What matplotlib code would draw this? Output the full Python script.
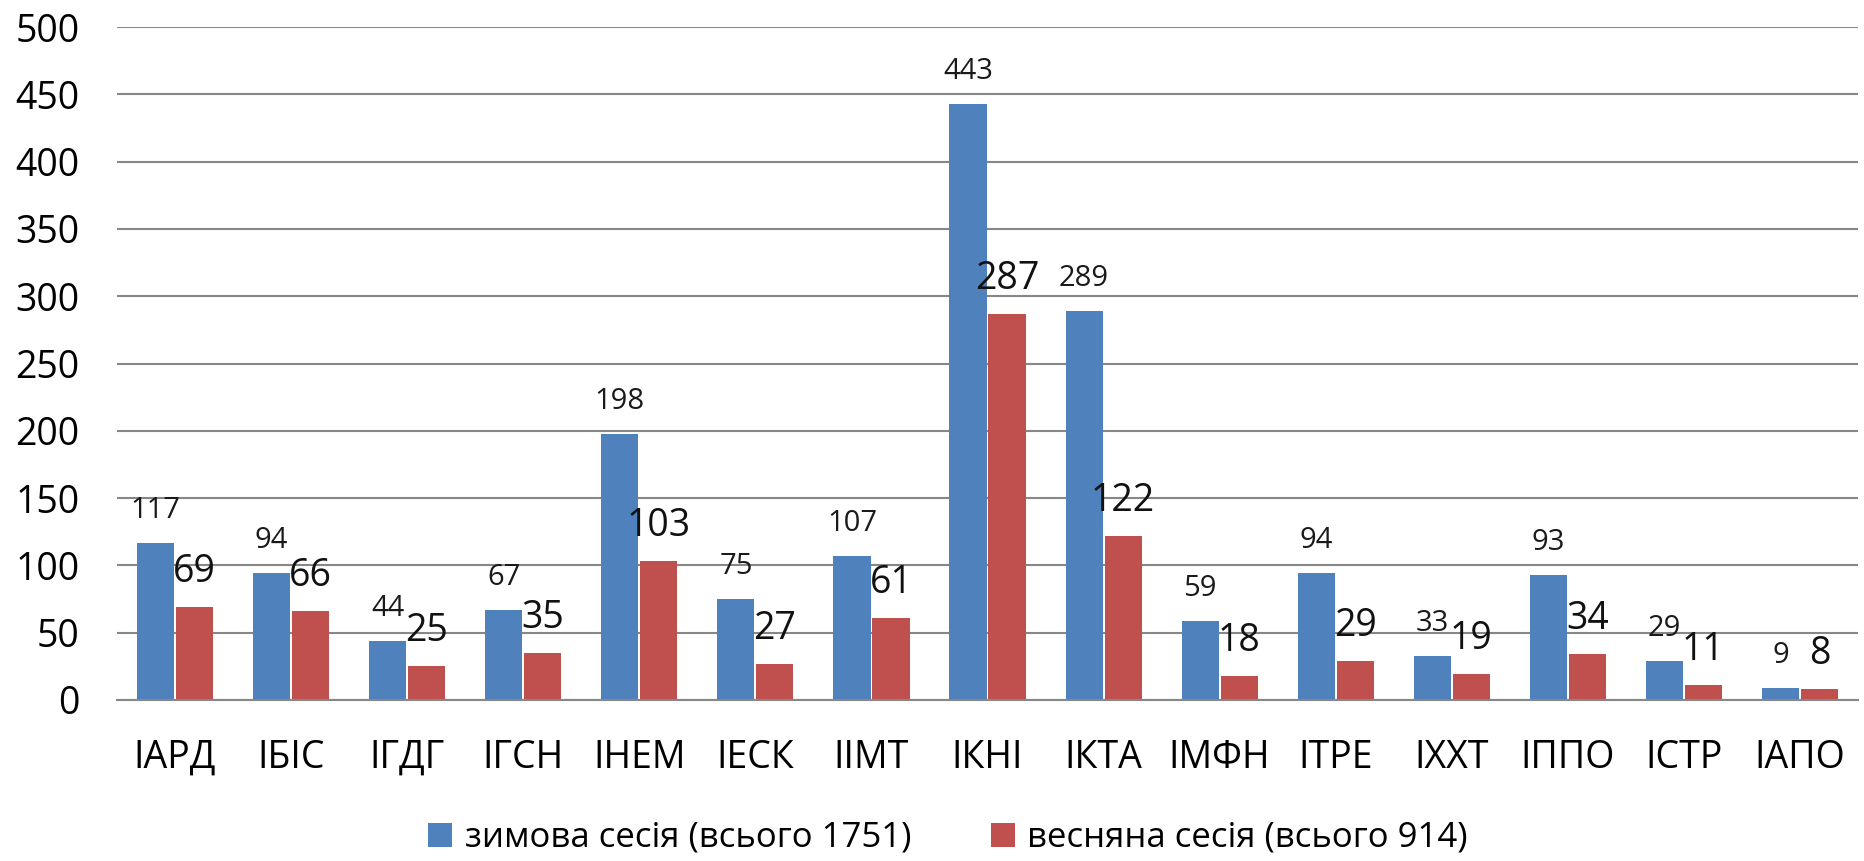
import matplotlib
matplotlib.use("Agg")
import matplotlib.pyplot as plt
import numpy as np

plt.rcParams['font.family'] = ['Open Sans', 'DejaVu Sans']

institutes = ['ІАРД', 'ІБІС', 'ІГДГ', 'ІГСН', 'ІНЕМ', 'ІЕСК', 'ІІМТ', 'ІКНІ',
              'ІКТА', 'ІМФН', 'ІТРЕ', 'ІХХТ', 'ІППО', 'ІСТР', 'ІАПО']
winter = [117, 94, 44, 67, 198, 75, 107, 443, 289, 59, 94, 33, 93, 29, 9]
spring = [69, 66, 25, 35, 103, 27, 61, 287, 122, 18, 29, 19, 34, 11, 8]
winter_label = 'зимова сесія (всього 1751)'
spring_label = 'весняна сесія (всього 914)'

blue = '#4F81BD'
red = '#C0504D'
grid_col = '#878787'

fig = plt.figure(figsize=(18.64, 8.61), dpi=100)
ax = fig.add_axes([0.0628, 0.187, 0.934, 0.7816])

x = np.arange(len(institutes))
w = 0.32
b1 = ax.bar(x - 0.168, winter, w, color=blue, label=winter_label, zorder=3)
b2 = ax.bar(x + 0.168, spring, w, color=red, label=spring_label, zorder=3)

# value labels above bars
for xi, v in zip(x - 0.168, winter):
    ax.annotate(str(v), (xi, v), xytext=(0, 18), textcoords='offset points',
                ha='center', va='baseline', fontsize=21, color='#1a1a1a', zorder=4)
for xi, v in zip(x + 0.168, spring):
    ax.annotate(str(v), (xi, v), xytext=(0, 18), textcoords='offset points',
                ha='center', va='baseline', fontsize=27, color='#111111', zorder=4)

ax.set_xlim(-0.5, len(institutes) - 0.5)
ax.set_ylim(0, 500)
ax.set_yticks(np.arange(0, 501, 50))
ax.set_xticks(x)
ax.set_xticklabels(institutes)
ax.tick_params(axis='x', length=0, pad=28, labelsize=27)
ax.tick_params(axis='y', length=0, pad=27, labelsize=27)
ax.yaxis.grid(True, color=grid_col, linewidth=1.5, zorder=0)
for s in ['top', 'right', 'left']:
    ax.spines[s].set_visible(False)
ax.spines['bottom'].set_color(grid_col)
ax.spines['bottom'].set_linewidth(1.5)
ax.spines['bottom'].set_zorder(4)

fig.legend(handles=[b1, b2], loc='center', bbox_to_anchor=(948 / 1864, 1 - 838 / 861),
           ncol=2, frameon=False, fontsize=25, handlelength=0.7, handleheight=0.7,
           handletextpad=0.35, columnspacing=2.3)

fig.savefig('out.png', dpi=100, facecolor='white')
